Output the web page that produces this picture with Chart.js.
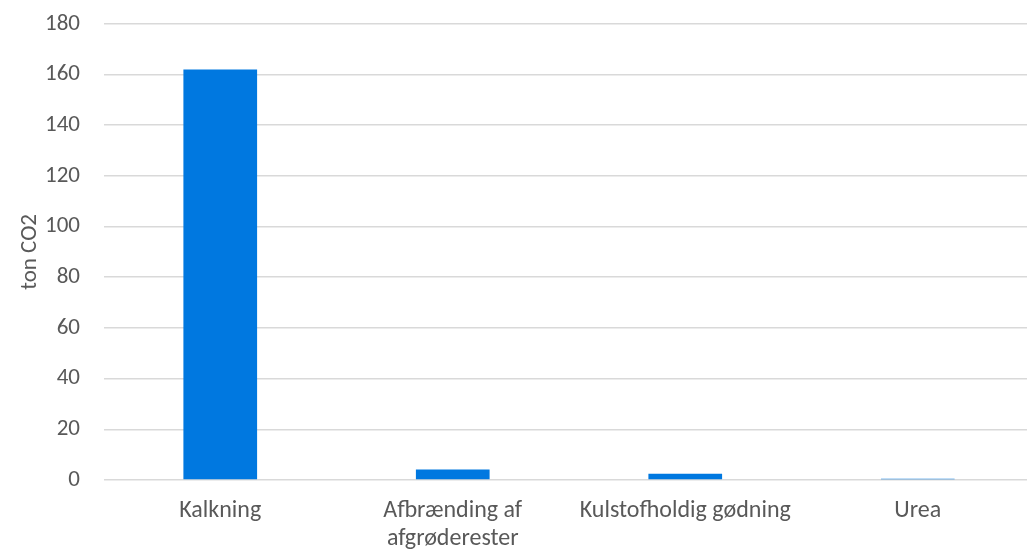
<!DOCTYPE html>
<html>
<head>
<meta charset="utf-8">
<script src="https://cdn.jsdelivr.net/npm/chart.js@4"></script>
<style>
  html, body { margin:0; padding:0; background:#fff; overflow:hidden; }
  #wrap { width:1040px; height:553px; }
</style>
</head>
<body>
<div id="wrap"><canvas id="chart"></canvas></div>
<script>
/* CO2 per source, bar chart */
const categories = ['Kalkning', ['Afbrænding af', 'afgrøderester'], 'Kulstofholdig gødning', 'Urea'];
const values = [162, 4.1, 2.5, 0.5];
const yTicks = [0, 20, 40, 60, 80, 100, 120, 140, 160, 180];

const TICK_COLOR = '#595959';
const GRID_COLOR = '#d9d9d9';
const BAR_COLOR = '#0078e0';
const FONT = 'Carlito, Lato, "Open Sans", sans-serif';

new Chart(document.getElementById('chart'), {
  type: 'bar',
  data: {
    labels: categories,
    datasets: [{ label: 'ton CO2', data: values, backgroundColor: BAR_COLOR,
      categoryPercentage: 1, barPercentage: 0.317 }]
  },
  options: {
    responsive: true, maintainAspectRatio: false, animation: false,
    layout: { padding: { top: 0, right: 6, left: 12, bottom: 0 } },
    plugins: { legend: { display: false }, tooltip: { enabled: false } },
    scales: {
      x: {
        afterFit: s => { s.height = 73; },
        grid: { display: false, drawTicks: false },
        border: { display: false },
        ticks: { color: TICK_COLOR, font: { family: FONT, size: 24, lineHeight: 1.18 }, maxRotation: 0, autoSkip: false, padding: 17 }
      },
      y: {
        min: 0, max: 180,
        afterBuildTicks: axis => { axis.ticks = yTicks.map(v => ({ value: v })); },
        afterFit: s => { s.width = 92; },
        grid: { color: GRID_COLOR, lineWidth: 1.5, drawTicks: true, tickLength: 14, tickColor: 'rgba(0,0,0,0)' },
        border: { display: false },
        ticks: { color: TICK_COLOR, font: { family: FONT, size: 23 }, padding: 10 },
        title: { display: true, text: 'ton CO2', color: TICK_COLOR, font: { family: FONT, size: 23 }, padding: 4 }
      }
    }
  }
});
</script>
</body>
</html>
